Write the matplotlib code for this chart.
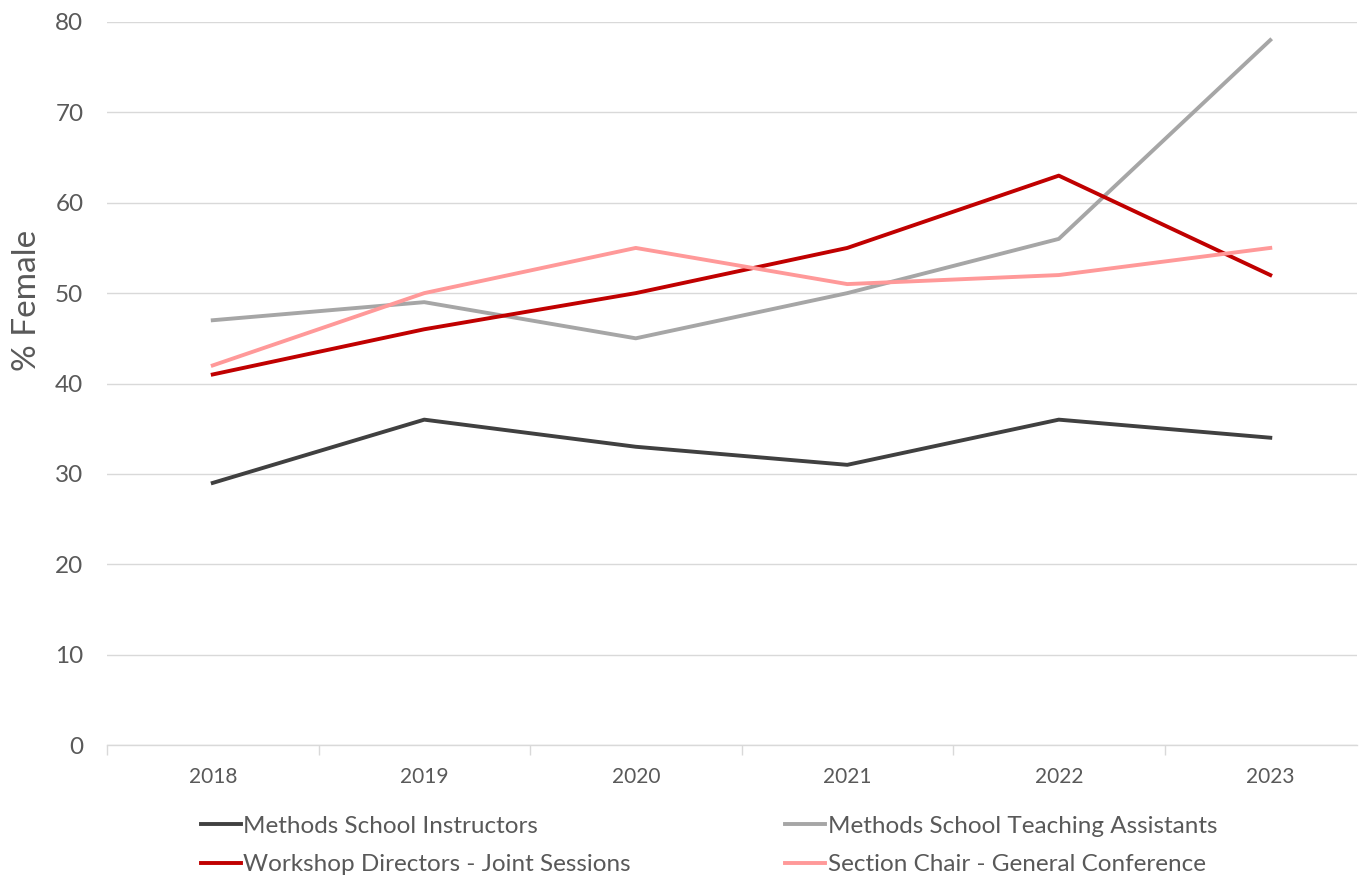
import matplotlib
matplotlib.use("Agg")
from matplotlib import pyplot as plt
import numpy as np

plt.rcParams['font.family'] = ['Lato', 'DejaVu Sans']

years = ['2018', '2019', '2020', '2021', '2022', '2023']
instructors = [29, 36, 33, 31, 36, 34]
teaching_assistants = [47, 49, 45, 50, 56, 78]
workshop_directors = [41, 46, 50, 55, 63, 52]
section_chairs = [42, 50, 55, 51, 52, 55]

text_col = '#595959'
grid_col = '#D9D9D9'

fig = plt.figure(figsize=(13.68, 8.81), dpi=100)
ax = fig.add_axes([107 / 1368, 1 - 745 / 881, (1357 - 107) / 1368, (745 - 22) / 881])

xs = np.arange(len(years))
l1, = ax.plot(xs, instructors, color='#404040', lw=2.8, label='Methods School Instructors')
l2, = ax.plot(xs, teaching_assistants, color='#A6A6A6', lw=2.8, label='Methods School Teaching Assistants')
l3, = ax.plot(xs, workshop_directors, color='#C00000', lw=2.8, label='Workshop Directors - Joint Sessions')
l4, = ax.plot(xs, section_chairs, color='#FF9999', lw=2.8, label='Section Chair - General Conference')

ax.set_yticks(range(0, 81, 10))
ax.set_xticks(xs)
ax.set_xticklabels(years)
ax.set_xticks(np.arange(-0.5, 5.0, 1), minor=True)
ax.set_ylim(0, 80)
ax.set_xlim(-0.5, 5.41)

ax.grid(axis='y', color=grid_col, lw=1)
ax.set_axisbelow(True)
for s in ['top', 'right', 'left']:
    ax.spines[s].set_visible(False)
ax.spines['bottom'].set_color(grid_col)
ax.spines['bottom'].set_linewidth(1)

ax.tick_params(axis='y', length=0, labelsize=17.5, labelcolor=text_col, pad=17)
ax.tick_params(axis='x', which='major', length=0, labelsize=15, labelcolor=text_col, pad=16)
ax.tick_params(axis='x', which='minor', length=7, color=grid_col, width=1)

ax.set_ylabel('% Female', fontsize=24, color=text_col)
ax.yaxis.set_label_coords(-0.052, 0.615)

fig.legend(handles=[l1, l3, l2, l4], ncol=2, loc='upper left',
           bbox_to_anchor=(179 / 1368, 1 - 794 / 881), frameon=False,
           fontsize=17.5, labelcolor=text_col, handlelength=1.65,
           handletextpad=0.1, columnspacing=6.35, labelspacing=0.72)

fig.savefig('out.png', dpi=100)
